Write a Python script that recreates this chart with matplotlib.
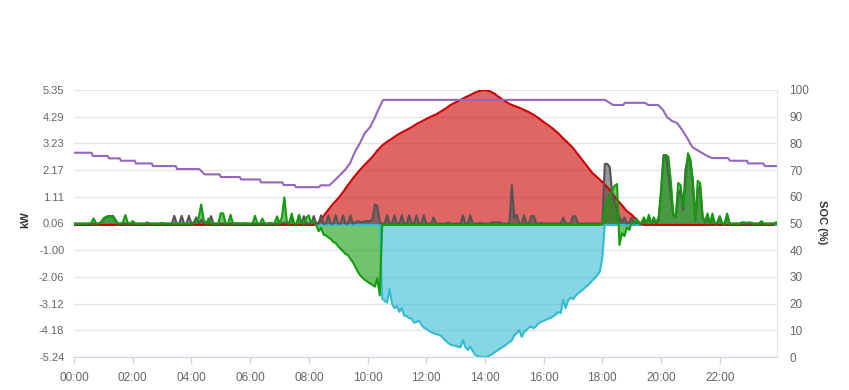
import numpy as np
import matplotlib
matplotlib.use("Agg")
import matplotlib.pyplot as plt

plt.rcParams['font.family'] = ['Liberation Sans', 'DejaVu Sans']

# 5-minute samples (one row = one hour)
battery_kw = [
    0.05, 0.05, 0.05, 0.05, 0.05, 0.05, 0.05, 0.08, 0.26, 0.06, 0.05, 0.10,
    0.25, 0.32, 0.32, 0.32, 0.30, 0.15, 0.06, 0.05, 0.10, 0.39, 0.08, 0.05,
    0.15, 0.05, 0.05, 0.05, 0.05, 0.05, 0.10, 0.05, 0.05, 0.05, 0.05, 0.05,
    0.08, 0.05, 0.05, 0.05, 0.05, 0.05, 0.05, 0.05, 0.05, 0.05, 0.05, 0.05,
    0.05, 0.05, 0.10, 0.30, 0.81, 0.20, 0.05, 0.25, 0.05, 0.05, 0.05, 0.05,
    0.47, 0.45, 0.05, 0.05, 0.40, 0.05, 0.06, 0.06, 0.06, 0.06, 0.06, 0.05,
    0.05, 0.05, 0.36, 0.05, 0.05, 0.25, 0.05, 0.05, 0.08, 0.05, 0.05, 0.34,
    0.05, 0.30, 1.09, 0.15, 0.05, 0.45, 0.05, 0.05, 0.40, 0.05, 0.05, 0.30,
    0.38, 0.05, 0.10, 0.00, -0.25, -0.12, -0.38, -0.42, -0.50, -0.56, -0.68, -0.72,
    -0.85, -0.95, -1.05, -1.15, -1.20, -1.35, -1.48, -1.66, -1.85, -2.00, -2.10, -2.19,
    -2.25, -2.32, -2.38, -2.45, -2.12, -2.80, 0.00, 0.00, 0.00, 0.00, 0.00, 0.00,
    0.00, 0.00, 0.00, 0.00, 0.00, 0.00, 0.00, 0.00, 0.00, 0.00, 0.00, 0.00,
    0.00, 0.00, 0.00, 0.00, 0.00, 0.00, 0.00, 0.00, 0.00, 0.00, 0.00, 0.00,
    0.00, 0.00, 0.00, 0.00, 0.00, 0.00, 0.00, 0.00, 0.00, 0.00, 0.00, 0.00,
    0.00, 0.00, 0.00, 0.00, 0.00, 0.00, 0.00, 0.00, 0.00, 0.00, 0.00, 0.00,
    0.00, 0.00, 0.00, 0.00, 0.00, 0.00, 0.00, 0.00, 0.00, 0.00, 0.00, 0.00,
    0.00, 0.00, 0.00, 0.00, 0.00, 0.00, 0.00, 0.00, 0.00, 0.00, 0.00, 0.00,
    0.00, 0.00, 0.00, 0.00, 0.00, 0.00, 0.00, 0.00, 0.00, 0.00, 0.00, 0.00,
    0.05, 0.60, 1.00, 1.20, 1.35, 1.55, 1.62, -0.80, -0.33, -0.45, -0.10, -0.20,
    0.10, 0.05, 0.25, 0.05, 0.10, 0.30, 0.05, 0.40, 0.05, 0.30, 0.10, 0.30,
    1.20, 2.60, 2.77, 2.70, 1.72, 0.47, 0.30, 1.66, 1.58, 0.72, 1.50, 2.84,
    2.60, 1.80, 0.15, 1.75, 1.65, 0.30, 0.15, 0.45, 0.05, 0.45, 0.05, 0.10,
    0.35, 0.05, 0.05, 0.45, 0.05, 0.05, 0.05, 0.05, 0.05, 0.10, 0.10, 0.08,
    0.10, 0.08, 0.05, 0.05, 0.05, 0.15, 0.05, 0.05, 0.05, 0.05, 0.05, 0.10,
]

load_kw = [
    0.05, 0.05, 0.05, 0.05, 0.05, 0.05, 0.05, 0.05, 0.05, 0.05, 0.05, 0.10,
    0.20, 0.30, 0.35, 0.35, 0.35, 0.20, 0.05, 0.05, 0.05, 0.05, 0.05, 0.05,
    0.05, 0.05, 0.05, 0.05, 0.05, 0.05, 0.05, 0.05, 0.05, 0.05, 0.05, 0.05,
    0.05, 0.05, 0.05, 0.05, 0.05, 0.36, 0.05, 0.05, 0.36, 0.05, 0.05, 0.36,
    0.05, 0.10, 0.30, 0.05, 0.20, 0.05, 0.05, 0.05, 0.35, 0.05, 0.05, 0.05,
    0.05, 0.05, 0.05, 0.05, 0.05, 0.05, 0.05, 0.05, 0.05, 0.05, 0.05, 0.05,
    0.05, 0.05, 0.05, 0.05, 0.05, 0.05, 0.05, 0.05, 0.05, 0.05, 0.05, 0.05,
    0.05, 0.05, 0.10, 0.05, 0.05, 0.30, 0.05, 0.05, 0.35, 0.05, 0.35, 0.05,
    0.05, 0.05, 0.35, 0.05, 0.05, 0.38, 0.05, 0.05, 0.38, 0.05, 0.05, 0.38,
    0.05, 0.05, 0.38, 0.05, 0.05, 0.38, 0.05, 0.10, 0.15, 0.12, 0.10, 0.15,
    0.15, 0.15, 0.20, 0.81, 0.75, 0.10, 0.05, 0.05, 0.38, 0.05, 0.05, 0.38,
    0.05, 0.05, 0.38, 0.05, 0.05, 0.38, 0.05, 0.05, 0.38, 0.05, 0.05, 0.38,
    0.05, 0.05, 0.05, 0.30, 0.05, 0.05, 0.05, 0.05, 0.05, 0.10, 0.05, 0.05,
    0.05, 0.05, 0.05, 0.38, 0.05, 0.05, 0.38, 0.05, 0.05, 0.05, 0.08, 0.05,
    0.05, 0.05, 0.05, 0.10, 0.10, 0.10, 0.10, 0.05, 0.05, 0.05, 0.05, 1.58,
    0.25, 0.40, 0.05, 0.05, 0.38, 0.05, 0.05, 0.35, 0.35, 0.05, 0.05, 0.08,
    0.05, 0.05, 0.05, 0.05, 0.05, 0.05, 0.05, 0.05, 0.29, 0.05, 0.05, 0.05,
    0.34, 0.34, 0.05, 0.05, 0.05, 0.05, 0.05, 0.05, 0.05, 0.05, 0.05, 0.05,
    0.05, 2.42, 2.42, 2.30, 1.30, 0.90, 0.60, 0.30, 0.10, 0.30, 0.05, 0.10,
    0.29, 0.05, 0.10, 0.05, 0.05, 0.20, 0.05, 0.30, 0.05, 0.20, 0.05, 0.20,
    1.40, 2.77, 2.77, 2.00, 1.20, 0.40, 0.30, 1.20, 1.40, 0.60, 2.20, 2.70,
    2.50, 1.60, 0.15, 1.40, 1.50, 0.30, 0.10, 0.30, 0.05, 0.30, 0.05, 0.05,
    0.30, 0.05, 0.05, 0.40, 0.05, 0.05, 0.05, 0.05, 0.05, 0.05, 0.05, 0.05,
    0.05, 0.05, 0.05, 0.05, 0.05, 0.05, 0.05, 0.05, 0.05, 0.05, 0.05, 0.05,
]

grid_kw = [
    0.00, 0.00, 0.00, 0.00, 0.00, 0.00, 0.00, 0.00, 0.00, 0.00, 0.00, 0.00,
    0.00, 0.00, 0.00, 0.00, 0.00, 0.00, 0.00, 0.00, 0.00, 0.00, 0.00, 0.00,
    0.00, 0.00, 0.00, 0.00, 0.00, 0.00, 0.00, 0.00, 0.00, 0.00, 0.00, 0.00,
    0.00, 0.00, 0.00, 0.00, 0.00, 0.00, 0.00, 0.00, 0.00, 0.00, 0.00, 0.00,
    0.00, 0.00, 0.00, 0.00, 0.00, 0.00, 0.00, 0.00, 0.00, 0.00, 0.00, 0.00,
    0.00, 0.00, 0.00, 0.00, 0.00, 0.00, 0.00, 0.00, 0.00, 0.00, 0.00, 0.00,
    0.00, 0.00, 0.00, 0.00, 0.00, 0.00, 0.00, 0.00, 0.00, 0.00, 0.00, 0.00,
    0.00, 0.00, 0.00, 0.00, 0.00, 0.00, 0.00, 0.00, 0.00, 0.00, 0.00, 0.00,
    0.00, 0.00, 0.00, 0.00, 0.00, 0.00, 0.00, 0.00, 0.00, 0.00, 0.00, 0.00,
    0.00, 0.00, 0.00, 0.00, 0.00, 0.00, 0.00, 0.00, 0.00, 0.00, 0.00, 0.00,
    0.00, 0.00, 0.00, 0.00, 0.00, 0.00, -2.92, -3.02, -3.08, -2.55, -3.12, -3.30,
    -3.22, -3.45, -3.30, -3.60, -3.62, -3.70, -3.72, -3.88, -3.85, -3.80, -3.95, -4.08,
    -4.12, -4.20, -4.25, -4.30, -4.33, -4.36, -4.40, -4.50, -4.60, -4.68, -4.76, -4.78,
    -4.80, -4.83, -4.86, -4.57, -4.85, -4.96, -4.83, -5.00, -5.16, -5.20, -5.23, -5.24,
    -5.24, -5.22, -5.18, -5.12, -5.05, -4.98, -4.92, -4.86, -4.80, -4.72, -4.65, -4.58,
    -4.37, -4.30, -4.17, -4.44, -4.25, -4.17, -4.06, -4.04, -4.10, -4.00, -3.90, -3.84,
    -3.80, -3.76, -3.72, -3.68, -3.62, -3.55, -3.45, -3.50, -2.98, -3.30, -3.00, -2.88,
    -2.95, -2.82, -2.72, -2.65, -2.57, -2.48, -2.40, -2.30, -2.20, -2.10, -1.98, -1.85,
    -1.30, 0.00, 0.00, 0.00, 0.00, 0.00, 0.00, 0.00, 0.00, 0.00, 0.00, 0.00,
    0.00, 0.00, 0.00, 0.00, 0.00, 0.00, 0.00, 0.00, 0.00, 0.00, 0.00, 0.00,
    0.00, 0.00, 0.00, 0.00, 0.00, 0.00, 0.00, 0.00, 0.00, 0.00, 0.00, 0.00,
    0.00, 0.00, 0.00, 0.00, 0.00, 0.00, 0.00, 0.00, 0.00, 0.00, 0.00, 0.00,
    0.00, 0.00, 0.00, 0.00, 0.00, 0.00, 0.00, 0.00, 0.00, 0.00, 0.00, 0.00,
    0.00, 0.00, 0.00, 0.00, 0.00, 0.00, 0.00, 0.00, 0.00, 0.00, 0.00, 0.00,
]

# 10-minute samples (one row = one hour)
solar_kw = [
    0, 0, 0, 0, 0, 0,
    0, 0, 0, 0, 0, 0,
    0, 0, 0, 0, 0, 0,
    0, 0, 0, 0, 0, 0,
    0, 0, 0, 0, 0, 0,
    0, 0, 0, 0, 0, 0,
    0, 0, 0, 0, 0, 0,
    0, 0, 0, 0, 0, 0,
    0, 0, 0.10, 0.35, 0.60, 0.85,
    1.05, 1.30, 1.58, 1.84, 2.08, 2.30,
    2.50, 2.70, 2.95, 3.15, 3.30, 3.42,
    3.56, 3.67, 3.77, 3.87, 4.00, 4.10,
    4.20, 4.30, 4.38, 4.50, 4.62, 4.76,
    4.86, 4.96, 5.06, 5.15, 5.25, 5.32,
    5.35, 5.30, 5.20, 5.05, 4.92, 4.80,
    4.72, 4.65, 4.56, 4.47, 4.36, 4.23,
    4.08, 3.95, 3.80, 3.63, 3.43, 3.25,
    3.05, 2.80, 2.55, 2.30, 2.05, 1.88,
    1.70, 1.50, 1.25, 1.00, 0.78, 0.55,
    0.40, 0.20, 0.02, 0, 0, 0,
    0, 0, 0, 0, 0, 0,
    0, 0, 0, 0, 0, 0,
    0, 0, 0, 0, 0, 0,
    0, 0, 0, 0, 0, 0,
]

# battery state of charge, read at its break points
soc_hours = [0.0, 0.6, 0.64, 1.15, 1.19, 1.56, 1.6, 2.07, 2.11, 2.65, 2.69,
             3.47, 3.51, 4.27, 4.45, 4.96, 5.0, 5.65, 5.69, 6.33, 6.37, 7.1,
             7.14, 7.52, 7.56, 8.35, 8.4, 8.7, 8.89, 9.23, 9.4, 9.57, 9.74,
             9.91, 10.09, 10.26, 10.36, 10.53, 18.09, 18.36, 18.71, 18.77,
             19.45, 19.56, 19.9, 20.07, 20.2, 20.37, 20.55, 20.72, 20.89,
             21.06, 21.23, 21.4, 21.57, 21.74, 22.28, 22.35, 22.93, 22.96,
             23.48, 23.54, 23.95]
soc_pct = [76.5, 76.5, 75.3, 75.3, 74.4, 74.4, 73.5, 73.5, 72.5, 72.5, 71.5,
           71.5, 70.4, 70.4, 68.4, 68.4, 67.4, 67.4, 66.5, 66.5, 65.4, 65.4,
           64.4, 64.4, 63.6, 63.6, 64.3, 64.3, 66.3, 70.0, 72.5, 76.8, 80.1,
           83.9, 86.1, 89.9, 92.5, 96.3, 96.3, 94.4, 94.4, 95.2,
           95.2, 94.4, 94.4, 92.5, 89.9, 88.4, 87.6, 85.0, 82.0,
           78.7, 77.5, 76.4, 75.3, 74.5, 74.5, 73.5, 73.5, 72.5,
           72.5, 71.5, 71.5]

kw_ticks = [-5.24, -4.18, -3.12, -2.06, -1.00, 0.06, 1.11, 2.17, 3.23, 4.29, 5.35]
kw_labels = ["-5.24", "-4.18", "-3.12", "-2.06", "-1.00", "0.06", "1.11",
             "2.17", "3.23", "4.29", "5.35"]
soc_ticks = [0, 10, 20, 30, 40, 50, 60, 70, 80, 90, 100]
hour_ticks = [0, 2, 4, 6, 8, 10, 12, 14, 16, 18, 20, 22]
hour_labels = ["00:00", "02:00", "04:00", "06:00", "08:00", "10:00",
               "12:00", "14:00", "16:00", "18:00", "20:00", "22:00"]


def area(ax, t, v, color, alpha=0.6, lw=1.5):
    ax.fill_between(t, 0, v, color=color, alpha=alpha, lw=0)
    ax.plot(t, v, color=color, lw=lw, solid_joinstyle='round')


def main():
    t5 = np.arange(len(battery_kw)) / 12.0
    t10 = np.arange(len(solar_kw)) / 6.0

    fig = plt.figure(figsize=(8.49, 3.9), dpi=100)
    ax = fig.add_axes([74 / 849, 1 - 357 / 390, 703 / 849, 267 / 390])

    # order matters: later series sit on top
    area(ax, t5, grid_kw, '#35bbd2')
    area(ax, t10, solar_kw, '#cc0000')
    area(ax, t5, load_kw, '#555555')
    area(ax, t5, battery_kw, '#149c0e')

    ax.set_xlim(0, 23.95)
    ax.set_ylim(-5.24, 5.35)
    ax.set_yticks(kw_ticks)
    ax.set_yticklabels(kw_labels)
    ax.set_xticks(hour_ticks)
    ax.set_xticklabels(hour_labels)
    ax.set_axisbelow(True)
    ax.grid(axis='y', color='#e6e6e6', lw=1)
    ax.tick_params(axis='y', length=0, pad=7, labelsize=8, labelcolor='#666666')
    ax.tick_params(axis='x', length=5, width=1, color='#ccd6eb', pad=6,
                   labelsize=8.5, labelcolor='#666666')
    for side in ['left', 'top', 'right']:
        ax.spines[side].set_visible(False)
    ax.spines['bottom'].set_color('#ccd6eb')

    ax2 = ax.twinx()
    ax2.plot(soc_hours, soc_pct, color='#9467bd', lw=1.5)
    ax2.set_ylim(0, 100)
    ax2.set_yticks(soc_ticks)
    ax2.tick_params(axis='y', length=0, pad=9, labelsize=8.5, labelcolor='#666666')
    for side in ['left', 'top', 'bottom']:
        ax2.spines[side].set_visible(False)
    ax2.spines['right'].set_color('#e6e6e6')

    fig.text(25 / 849, 1 - 220 / 390, 'kW', rotation=90, ha='center', va='center',
             fontsize=8, fontweight='bold', color='#333333')
    fig.text(822 / 849, 1 - 222 / 390, 'SOC (%)', rotation=270, ha='center',
             va='center', fontsize=8, fontweight='bold', color='#333333')

    fig.savefig('out.png', dpi=100)


if __name__ == "__main__":
    main()
